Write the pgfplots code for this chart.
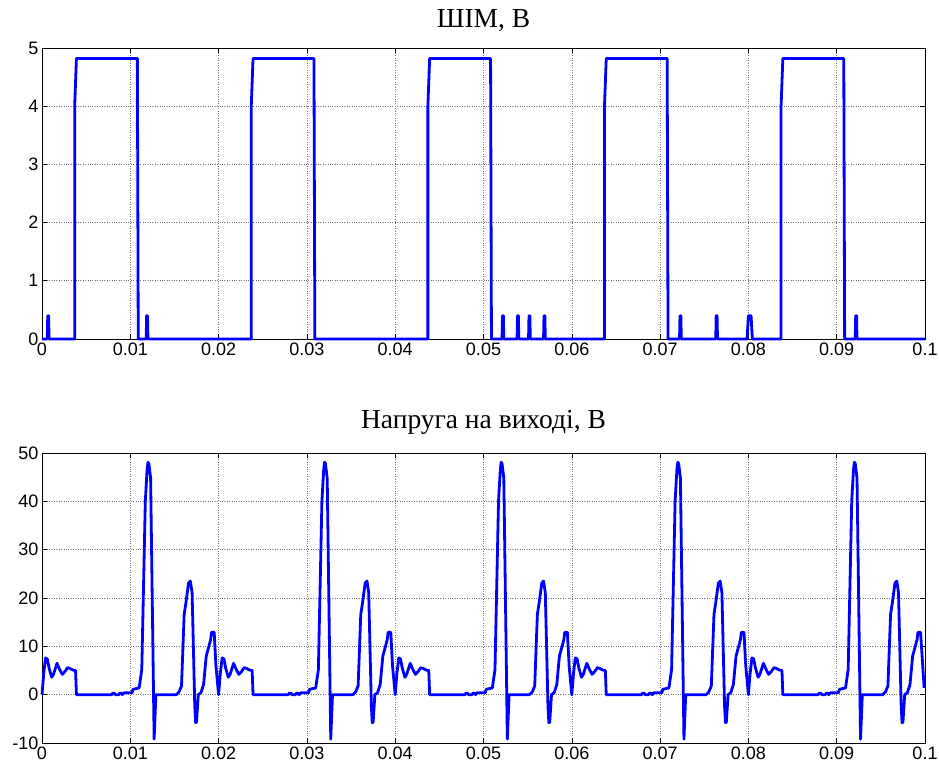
\documentclass[border=0pt]{standalone}
\usepackage{fontspec}
\setmainfont{Liberation Serif}
\newfontfamily\arialfont{Liberation Sans}
\usepackage{pgfplots}
\pgfplotsset{compat=1.18}
\usepackage{pgfplotstable}

\pgfplotstableread{
t v
0 0
0.0006 0
0.00065 0.4
0.00075 0.4
0.0008 0
0.0037 0
0.0037 4.0
0.0039 4.82
0.0108 4.82
0.0109 0
0.0118 0
0.01185 0.4
0.01195 0.4
0.0120 0
0.0237 0
0.0237 4.0
0.0239 4.82
0.0308 4.82
0.0309 0
0.0437 0
0.0437 4.0
0.0439 4.82
0.0508 4.82
0.0509 0
0.0521 0
0.05215 0.4
0.05225 0.4
0.0523 0
0.0538 0
0.05385 0.4
0.05395 0.4
0.0540 0
0.0551 0
0.05515 0.4
0.05525 0.4
0.0553 0
0.0568 0
0.05685 0.4
0.05695 0.4
0.0570 0
0.0637 0
0.0637 4.0
0.0639 4.82
0.0708 4.82
0.0709 0
0.0722 0
0.07225 0.4
0.07235 0.4
0.0724 0
0.0763 0
0.07635 0.4
0.07645 0.4
0.0765 0
0.07985 0
0.0800 0.4
0.0803 0.4
0.08045 0
0.0837 0
0.0837 4.0
0.0839 4.82
0.0908 4.82
0.0909 0
0.0921 0
0.09215 0.4
0.09225 0.4
0.0923 0
0.1 0
}\pwm

\pgfplotstableread{
t v
0 0
0.0002 4.5
0.0004 7.6
0.0006 7.4
0.0008 5.5
0.0011 3.6
0.0013 4.2
0.0017 6.5
0.0020 5.2
0.0023 4.2
0.0026 4.8
0.0029 5.6
0.0032 5.4
0.0035 5.1
0.0038 5.0
0.0039 0
0.0079 0
0.0080 0.3
0.0082 0.3
0.0083 0
0.0087 0
0.0088 0.3
0.0090 0.3
0.0091 0
0.0093 0.4
0.0102 0.4
0.0103 1.1
0.0110 1.4
0.0113 5.2
0.0117 40
0.0119 46.5
0.0120 48.1
0.0121 47.8
0.0123 44.8
0.0127 -9.2
0.0129 0
0.0152 0
0.0155 0.5
0.0158 1.8
0.0161 16.6
0.0163 19
0.0166 23.1
0.0168 23.5
0.0170 21.1
0.0173 -2.3
0.0174 -5.8
0.0175 -5.7
0.0177 0
0.0180 0.4
0.0183 2.1
0.0186 8.0
0.0189 10
0.0191 11.4
0.0192 12.9
0.0195 12.9
0.0197 5.9
0.0200 0
0.0202 4.5
0.0204 7.6
0.0206 7.4
0.0208 5.5
0.0211 3.6
0.0213 4.2
0.0217 6.5
0.0220 5.2
0.0223 4.2
0.0226 4.8
0.0229 5.6
0.0232 5.4
0.0235 5.1
0.0238 5.0
0.0239 0
0.0279 0
0.0280 0.3
0.0282 0.3
0.0283 0
0.0287 0
0.0288 0.3
0.0290 0.3
0.0291 0
0.0293 0.4
0.0302 0.4
0.0303 1.1
0.0310 1.4
0.0313 5.2
0.0317 40
0.0319 46.5
0.0320 48.1
0.0321 47.8
0.0323 44.8
0.0327 -9.2
0.0329 0
0.0352 0
0.0355 0.5
0.0358 1.8
0.0361 16.6
0.0363 19
0.0366 23.1
0.0368 23.5
0.0370 21.1
0.0373 -2.3
0.0374 -5.8
0.0375 -5.7
0.0377 0
0.0380 0.4
0.0383 2.1
0.0386 8.0
0.0389 10
0.0391 11.4
0.0392 12.9
0.0395 12.9
0.0397 5.9
0.0400 0
0.0402 4.5
0.0404 7.6
0.0406 7.4
0.0408 5.5
0.0411 3.6
0.0413 4.2
0.0417 6.5
0.0420 5.2
0.0423 4.2
0.0426 4.8
0.0429 5.6
0.0432 5.4
0.0435 5.1
0.0438 5.0
0.0439 0
0.0479 0
0.0480 0.3
0.0482 0.3
0.0483 0
0.0487 0
0.0488 0.3
0.0490 0.3
0.0491 0
0.0493 0.4
0.0502 0.4
0.0503 1.1
0.0510 1.4
0.0513 5.2
0.0517 40
0.0519 46.5
0.0520 48.1
0.0521 47.8
0.0523 44.8
0.0527 -9.2
0.0529 0
0.0552 0
0.0555 0.5
0.0558 1.8
0.0561 16.6
0.0563 19
0.0566 23.1
0.0568 23.5
0.0570 21.1
0.0573 -2.3
0.0574 -5.8
0.0575 -5.7
0.0577 0
0.0580 0.4
0.0583 2.1
0.0586 8.0
0.0589 10
0.0591 11.4
0.0592 12.9
0.0595 12.9
0.0597 5.9
0.0600 0
0.0602 4.5
0.0604 7.6
0.0606 7.4
0.0608 5.5
0.0611 3.6
0.0613 4.2
0.0617 6.5
0.0620 5.2
0.0623 4.2
0.0626 4.8
0.0629 5.6
0.0632 5.4
0.0635 5.1
0.0638 5.0
0.0639 0
0.0679 0
0.0680 0.3
0.0682 0.3
0.0683 0
0.0687 0
0.0688 0.3
0.0690 0.3
0.0691 0
0.0693 0.4
0.0702 0.4
0.0703 1.1
0.0710 1.4
0.0713 5.2
0.0717 40
0.0719 46.5
0.0720 48.1
0.0721 47.8
0.0723 44.8
0.0727 -9.2
0.0729 0
0.0752 0
0.0755 0.5
0.0758 1.8
0.0761 16.6
0.0763 19
0.0766 23.1
0.0768 23.5
0.0770 21.1
0.0773 -2.3
0.0774 -5.8
0.0775 -5.7
0.0777 0
0.0780 0.4
0.0783 2.1
0.0786 8.0
0.0789 10
0.0791 11.4
0.0792 12.9
0.0795 12.9
0.0797 5.9
0.0800 0
0.0802 4.5
0.0804 7.6
0.0806 7.4
0.0808 5.5
0.0811 3.6
0.0813 4.2
0.0817 6.5
0.0820 5.2
0.0823 4.2
0.0826 4.8
0.0829 5.6
0.0832 5.4
0.0835 5.1
0.0838 5.0
0.0839 0
0.0879 0
0.0880 0.3
0.0882 0.3
0.0883 0
0.0887 0
0.0888 0.3
0.0890 0.3
0.0891 0
0.0893 0.4
0.0902 0.4
0.0903 1.1
0.0910 1.4
0.0913 5.2
0.0917 40
0.0919 46.5
0.0920 48.1
0.0921 47.8
0.0923 44.8
0.0927 -9.2
0.0929 0
0.0952 0
0.0955 0.5
0.0958 1.8
0.0961 16.6
0.0963 19
0.0966 23.1
0.0968 23.5
0.0970 21.1
0.0973 -2.3
0.0974 -5.8
0.0975 -5.7
0.0977 0
0.0980 0.4
0.0983 2.1
0.0986 8.0
0.0989 10
0.0991 11.4
0.0992 12.9
0.0995 12.9
0.0999 1.4
}\vout

\begin{document}
\begin{tikzpicture}
\useasboundingbox (-42pt,-28pt) rectangle (897pt,743pt);
\pgfplotsset{
  every axis/.append style={
    width=883pt, scale only axis,
    xmin=0, xmax=0.1,
    tick align=inside,
    major tick length=5pt,
    xmajorgrids, ymajorgrids,
    grid style={dotted, black!55, line width=0.6pt},
    axis line style={black, line width=0.8pt},
    every tick/.style={black, line width=0.6pt},
    xtick={0,0.01,0.02,0.03,0.04,0.05,0.06,0.07,0.08,0.09,0.1},
    xticklabels={0,0.01,0.02,0.03,0.04,0.05,0.06,0.07,0.08,0.09,0.1},
    tick label style={font=\arialfont\fontsize{18}{20}\selectfont},
    title style={font=\fontsize{27.5}{30}\selectfont, at={(0.5,1)}, anchor=base},
    clip=false,
  }
}
\begin{axis}[
  at={(0pt,404pt)}, anchor=south west,
  height=291pt,
  ymin=0, ymax=5,
  ytick={0,1,2,3,4,5},
  yticklabels={0,1,2,3,4,5},
  title={ШІМ, В},
  title style={yshift=14pt},
]
\addplot[blue, line width=2.8pt, line join=round] table[x=t, y=v] {\pwm};
\end{axis}
\begin{axis}[
  at={(0pt,0pt)}, anchor=south west,
  height=290pt,
  ymin=-10, ymax=50,
  ytick={-10,0,10,20,30,40,50},
  yticklabels={-10,0,10,20,30,40,50},
  title={Напруга на виході, В},
  title style={yshift=19pt},
]
\addplot[blue, line width=2.8pt, line join=round] table[x=t, y=v] {\vout};
\end{axis}
\end{tikzpicture}
\end{document}
